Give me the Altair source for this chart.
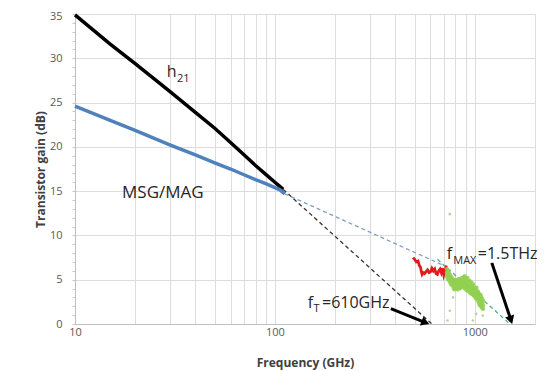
import altair as alt
import pandas as pd

# ---------------- data ----------------
h21_f = [10, 15, 20, 30, 40, 50, 60, 70, 80, 90, 100, 105, 110]
h21_v = [34.9, 31.6, 29.4, 26.2, 23.9, 22.1, 20.5, 19.1, 17.9, 16.9, 16.0, 15.6, 15.2]

msg_f = [10, 15, 20, 30, 40, 50, 60, 70, 80, 90, 100, 106, 112]
msg_v = [24.6, 23.0, 21.85, 20.2, 19.1, 18.2, 17.5, 16.85, 16.3, 15.85, 15.4, 15.15, 14.7]

red_f = [491, 500, 510, 520, 528, 535, 540, 545, 552, 560, 570, 580, 590, 600, 610,
         620, 630, 640, 650, 660, 670, 680, 690, 700, 710, 720]
red_v = [7.5, 7.3, 7.0, 7.1, 6.6, 6.4, 5.9, 5.6, 5.8, 5.7, 5.9, 6.1, 5.8, 5.9, 6.3,
         6.0, 6.2, 5.7, 5.6, 6.0, 6.2, 5.8, 6.3, 5.5, 5.9, 6.6]

green_f = [725, 730, 738, 745, 752, 760, 768, 776, 784, 792, 800, 810, 820, 830, 840,
           850, 860, 870, 880, 890, 900, 910, 920, 930, 940, 950, 960, 970, 980, 990,
           1000, 1010, 1020, 1030, 1040, 1050, 1060, 1070, 1080, 1090, 1100]
green_upper = [6.2, 5.9, 6.0, 5.7, 5.5, 5.3, 5.2, 5.0, 4.9, 4.8, 5.0, 4.9, 4.7, 5.1, 5.0,
               4.8, 5.2, 5.0, 5.3, 5.4, 5.1, 4.9, 5.2, 4.8, 4.9, 4.6, 4.7, 4.3, 4.5, 4.2,
               4.0, 3.9, 4.1, 3.7, 3.6, 3.4, 3.2, 3.3, 3.0, 2.8, 2.6]
green_mid = [5.8, 5.4, 5.6, 5.2, 5.1, 4.9, 4.7, 4.6, 4.5, 4.3, 4.6, 4.4, 4.3, 4.7, 4.4,
             4.5, 4.8, 4.6, 4.9, 4.7, 4.6, 4.3, 4.5, 4.2, 4.3, 4.0, 4.1, 3.9, 3.9, 3.7,
             3.5, 3.4, 3.5, 3.3, 3.0, 2.9, 2.6, 2.8, 2.4, 2.3, 2.1]
green_lower = [5.4, 5.1, 5.0, 4.9, 4.7, 4.5, 4.4, 4.3, 4.0, 3.9, 4.1, 4.0, 3.9, 4.2, 4.0,
               4.1, 4.3, 4.2, 4.4, 4.0, 4.1, 3.8, 3.9, 3.7, 3.6, 3.5, 3.4, 3.6, 3.3, 3.2,
               3.1, 3.0, 2.8, 2.9, 2.5, 2.3, 2.1, 2.2, 1.9, 1.8, 1.7]
green_out_f = [750, 778, 1016, 730, 750, 978, 1096]
green_out_v = [12.4, 3.0, 1.15, 0.4, 1.5, 0.4, 0.95]

# extrapolation lines: start/end points
ft_line = [(110, 15.2), (610, 0.0)]
mag_line = [(112, 14.7), (700, 6.6)]
fmax_line = [(650, 7.3), (1500, 0.0)]

# arrows: tail, head
ft_arrow = [(380, 1.74), (558, 0.22)]
fmax_arrow = [(1216, 6.9), (1508, 0.6)]

# annotation labels
labels_main = ["h", "f", "=610GHz", "f", "=1.5THz"]
labels_main_f = [28.8, 146, 172, 724, 1035]
labels_main_v = [27.9, 1.85, 1.85, 7.36, 7.36]
labels_sub = ["21", "T", "MAX"]
labels_sub_f = [32.4, 156, 780]
labels_sub_v = [27.3, 1.3, 6.8]
label_msg = ["MSG/MAG"]
label_msg_f = [17.2]
label_msg_v = [14.2]

x_grid = [10, 20, 30, 40, 50, 60, 70, 80, 90, 100, 200, 300, 400, 500, 600, 700,
          800, 900, 1000, 2000]
y_ticks = list(range(0, 36))

FONT = "Open Sans"

# ---------------- encodings ----------------
x_scale = alt.Scale(type="log", domain=[10, 2000], nice=False)
y_scale = alt.Scale(domain=[0, 35], nice=False)

x_axis = alt.Axis(
    values=x_grid, format="d",
    labelExpr="(datum.value == 10 || datum.value == 100 || datum.value == 1000) ? datum.label : ''",
    title="Frequency (GHz)", grid=True, gridColor="#dcdcdc", ticks=False,
    domainColor="#bfbfbf", labelColor="#595959", labelFontSize=11, labelFont=FONT,
    labelPadding=2, titleFont=FONT, titleFontSize=12, titleFontWeight="bold",
    titleColor="#404040", titlePadding=20, labelFlush=False,
)
y_axis = alt.Axis(
    values=y_ticks,
    labelExpr="datum.value % 5 == 0 ? datum.label : ''",
    labelOffset={"condition": {"test": "datum.value === 35", "value": 2}, "value": 0},
    title="Transistor gain (dB)", grid=True, gridColor="#dcdcdc",
    gridOpacity={"condition": {"test": "datum.value % 5 === 0", "value": 1}, "value": 0},
    tickColor="#c8c8c8", tickSize=3,
    domainColor="#bfbfbf", labelColor="#595959", labelFontSize=11, labelFont=FONT,
    labelPadding=10, titleFont=FONT, titleFontSize=12, titleFontWeight="bold",
    titleColor="#404040", titlePadding=2,
)

X = alt.X("f:Q", scale=x_scale, axis=x_axis)
Y = alt.Y("v:Q", scale=y_scale, axis=y_axis)


def seg_df(pts):
    return pd.DataFrame({"f": [pts[0][0]], "v": [pts[0][1]], "f2": [pts[1][0]], "v2": [pts[1][1]]})


h21 = alt.Chart(pd.DataFrame({"f": h21_f, "v": h21_v})).mark_line(
    color="black", strokeWidth=3.5).encode(x=X, y=Y)
msg = alt.Chart(pd.DataFrame({"f": msg_f, "v": msg_v})).mark_line(
    color="#4f81bd", strokeWidth=3.5).encode(x=X, y=Y)
red = alt.Chart(pd.DataFrame({"f": red_f, "v": red_v})).mark_line(
    color="#e31a1c", strokeWidth=2.8).encode(x=X, y=Y)

green_df = pd.DataFrame({
    "f": green_f * 3,
    "v": green_upper + green_mid + green_lower,
})
green = alt.Chart(green_df).mark_circle(
    color="#92d050", size=18, opacity=0.85).encode(x=X, y=Y)
green_out = alt.Chart(pd.DataFrame({"f": green_out_f, "v": green_out_v})).mark_circle(
    color="#a9c98a", size=7, opacity=0.8).encode(x=X, y=Y)


def dashed(pts, color, width=1.3):
    return alt.Chart(seg_df(pts)).mark_rule(
        color=color, strokeWidth=width, strokeDash=[4, 3]).encode(
        x=X, y=Y, x2="f2:Q", y2="v2:Q")


ft_d = dashed(ft_line, "#333333")
mag_d = dashed(mag_line, "#7f9fbf")
fmax_d = dashed(fmax_line, "#4fae8a")


def arrow(pts, angle):
    shaft = alt.Chart(seg_df(pts)).mark_rule(color="black", strokeWidth=3).encode(
        x=X, y=Y, x2="f2:Q", y2="v2:Q")
    head = alt.Chart(pd.DataFrame({"f": [pts[1][0]], "v": [pts[1][1]]})).mark_point(
        shape="triangle", filled=True, color="black", opacity=1, size=90, angle=angle
    ).encode(x=X, y=Y)
    return shaft + head


a1 = arrow(ft_arrow, 111.6)
a2 = arrow(fmax_arrow, 161.6)

txt_main = alt.Chart(pd.DataFrame({"f": labels_main_f, "v": labels_main_v, "t": labels_main})).mark_text(
    align="left", baseline="alphabetic", font=FONT, fontSize=16, color="#262626"
).encode(x=X, y=Y, text="t:N")
txt_msg = alt.Chart(pd.DataFrame({"f": label_msg_f, "v": label_msg_v, "t": label_msg})).mark_text(
    align="left", baseline="alphabetic", font=FONT, fontSize=17, color="#262626"
).encode(x=X, y=Y, text="t:N")
txt_sub = alt.Chart(pd.DataFrame({"f": labels_sub_f, "v": labels_sub_v, "t": labels_sub})).mark_text(
    align="left", baseline="alphabetic", font=FONT, fontSize=11, color="#262626"
).encode(x=X, y=Y, text="t:N")

chart = alt.layer(
    h21, msg, ft_d, mag_d, fmax_d, red, green, green_out, a1, a2, txt_main, txt_msg, txt_sub
).properties(
    width=460, height=310,
    padding={"left": 67, "top": 6, "right": 11, "bottom": 47},
    autosize=alt.AutoSizeParams(type="none"),
    background="white",
).configure_view(stroke=None)

chart.save("out.html", embed_options={"renderer": "svg", "actions": False})
